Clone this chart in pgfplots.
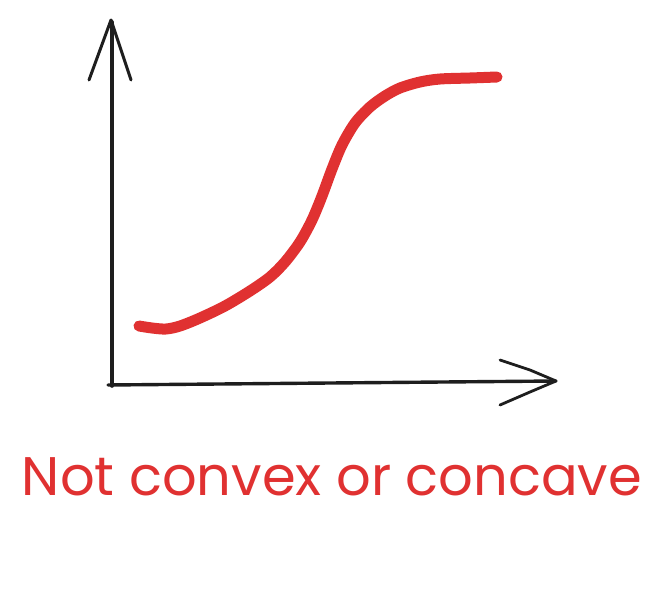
\documentclass[border=0pt]{standalone}
\usepackage{pgfplots}
\pgfplotsset{compat=1.18}
\usepackage{fontspec}
\setmainfont{Poppins}
\definecolor{exred}{HTML}{E03131}
\definecolor{exblack}{HTML}{1E1E1E}
\begin{document}
\begin{tikzpicture}[x=1bp,y=1bp]
\begin{axis}[
  x=1bp, y=1bp,
  xmin=0, xmax=665, ymin=0, ymax=604,
  y dir=reverse,
  hide axis, clip=false,
  scale only axis,
]
% vertical axis
\addplot[exblack, line width=3.6bp, line cap=round] coordinates {(112,386) (112,22)};
\addplot[exblack, line width=3bp, line cap=round, line join=round] coordinates {(89,80) (100,50) (111,20) (121,50) (131,80)};
% horizontal axis
\addplot[exblack, line width=3.4bp, line cap=round] coordinates {(108,385) (330,383) (556,381)};
\addplot[exblack, line width=2.8bp, line cap=round, line join=round] coordinates {(500,360) (530,370) (556,381) (530,392) (500,405)};
% curve
\addplot[exred, line width=11bp, line cap=round, line join=round, smooth] coordinates {
(139,326) (152,328) (166,329) (180,326) (200,318) (225,306) (250,291)
(270,277) (285,262) (300,242) (312,220) (322,196) (332,169) (342,145)
(355,123) (370,107) (385,96) (400,88) (420,82) (440,79) (470,78) (497,77)};
\path (axis cs:0,0) -- (axis cs:665,604);
\node[text=exred, anchor=base] at (axis cs:332,495) {\resizebox{620bp}{!}{Not convex or concave}};
\end{axis}
\end{tikzpicture}
\end{document}
